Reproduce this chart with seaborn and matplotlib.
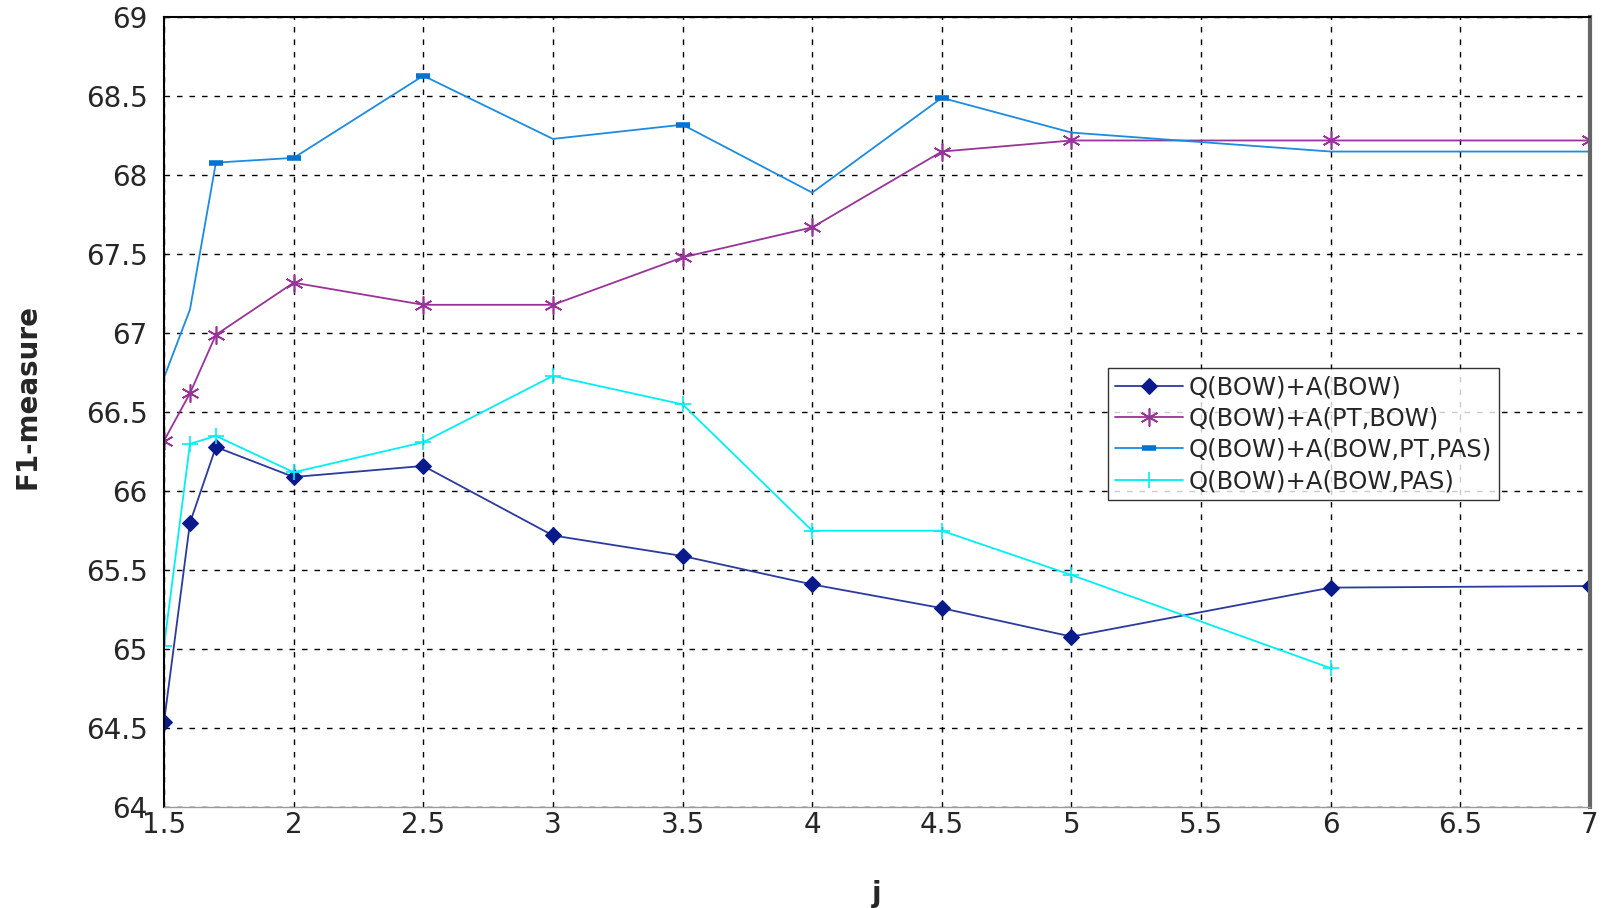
import matplotlib
matplotlib.use('Agg')
import matplotlib.pyplot as plt
import seaborn as sns

sns.set_style('white')
plt.rcParams['font.family'] = ['DejaVu Sans']

# j values (x axis)
j_vals = [1.5, 1.6, 1.7, 2, 2.5, 3, 3.5, 4, 4.5, 5, 6, 7]
j_vals_pas = [1.5, 1.6, 1.7, 2, 2.5, 3, 3.5, 4, 4.5, 5, 6]

# F1-measure per configuration
f1_bow = [64.54, 65.80, 66.28, 66.09, 66.16, 65.72, 65.59, 65.41, 65.26, 65.08, 65.39, 65.40]
f1_pt_bow = [66.32, 66.62, 66.99, 67.32, 67.18, 67.18, 67.48, 67.67, 68.15, 68.22, 68.22, 68.22]
f1_bow_pt_pas = [66.72, 67.15, 68.08, 68.11, 68.63, 68.23, 68.32, 67.89, 68.49, 68.27, 68.15, 68.15]
f1_bow_pas = [65.02, 66.30, 66.35, 66.12, 66.31, 66.73, 66.55, 65.75, 65.75, 65.47, 64.88]

labels = ['Q(BOW)+A(BOW)', 'Q(BOW)+A(PT,BOW)', 'Q(BOW)+A(BOW,PT,PAS)', 'Q(BOW)+A(BOW,PAS)']
x_ticks = [1.5, 2, 2.5, 3, 3.5, 4, 4.5, 5, 5.5, 6, 6.5, 7]
y_ticks = [64, 64.5, 65, 65.5, 66, 66.5, 67, 67.5, 68, 68.5, 69]


def plotLines():
    fig = plt.figure(figsize=(16.02, 9.08), dpi=100)
    ax = fig.add_axes([0.1024, 0.111, 0.8901, 0.870])

    sns.lineplot(x=j_vals, y=f1_bow, ax=ax, color='#2b3a9c', lw=1.3,
                 marker='D', markersize=8, markerfacecolor='#0a1a8a',
                 markeredgecolor='#0a1a8a', label=labels[0])
    sns.lineplot(x=j_vals, y=f1_pt_bow, ax=ax, color='#993399', lw=1.3,
                 marker=(6, 2, 0), markersize=13, markeredgewidth=1.2,
                 markeredgecolor='#993399', label=labels[1])
    sns.lineplot(x=j_vals, y=f1_bow_pt_pas, ax=ax, color='#1c8ce0', lw=1.3,
                 marker='_', markersize=10, markeredgewidth=4,
                 markeredgecolor='#0074d4', markevery=[2, 3, 4, 6, 8],
                 label=labels[2])
    sns.lineplot(x=j_vals_pas, y=f1_bow_pas, ax=ax, color='#00eef5', lw=1.3,
                 marker='+', markersize=12, markeredgewidth=1.2,
                 markeredgecolor='#00eef5', label=labels[3])

    ax.set_xlim(1.5, 7)
    ax.set_ylim(64, 69)
    ax.set_xticks(x_ticks)
    ax.set_xticklabels([('%g' % t) for t in x_ticks])
    ax.set_yticks(y_ticks)
    ax.set_yticklabels([('%g' % t) for t in y_ticks])
    ax.tick_params(axis='both', labelsize=20, length=0)
    ax.tick_params(axis='y', pad=12)
    ax.tick_params(axis='x', pad=3)

    ax.grid(True, color='black', linestyle=(0, (4, 5)), linewidth=1)
    for side in ['left', 'top']:
        ax.spines[side].set_color('black')
        ax.spines[side].set_linewidth(1.5)
    ax.spines['bottom'].set_color('#999999')
    ax.spines['bottom'].set_linewidth(1)
    ax.spines['right'].set_color('#666666')
    ax.spines['right'].set_linewidth(3)

    ax.set_ylabel('F1-measure', fontsize=20, fontweight='bold')
    ax.set_xlabel('j', fontsize=20, fontweight='bold')
    ax.yaxis.set_label_coords(-0.086, 0.52)
    ax.xaxis.set_label_coords(0.5, -0.092)

    leg = ax.legend(loc='upper left', bbox_to_anchor=(0.662, 0.556),
                    borderaxespad=0, fontsize=17.5, handlelength=2.8,
                    handletextpad=0.2, labelspacing=0.3, fancybox=False,
                    frameon=True, borderpad=0.3)
    leg.get_frame().set_edgecolor('black')
    leg.get_frame().set_linewidth(1)

    fig.savefig('out.png', dpi=100, facecolor='white')


def main():
    plotLines()


if __name__ == "__main__":
    main()
